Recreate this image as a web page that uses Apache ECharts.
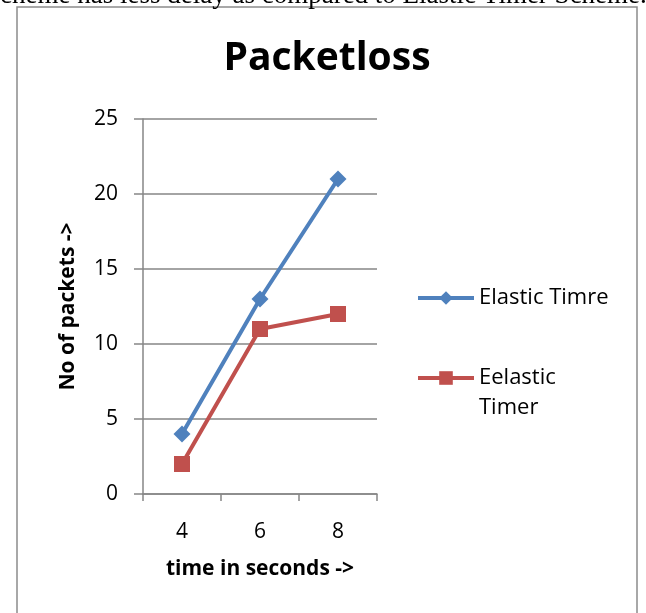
<!DOCTYPE html>
<html>
<head>
<meta charset="utf-8">
<script src="https://cdn.jsdelivr.net/npm/echarts@6/dist/echarts.min.js"></script>
<style>
  html, body { margin: 0; padding: 0; background: #fff; }
  #chart { width: 646px; height: 613px; }
</style>
</head>
<body>
<div id="chart"></div>
<script>
const categories = ['4', '6', '8'];
const seriesNames = ['Elastic Timre', 'Eelastic Timer'];
const elasticTimre = [4, 13, 21];
const eelasticTimer = [2, 11, 12];
const yTicks = [0, 5, 10, 15, 20, 25];
const titleText = 'Packetloss';
const xAxisName = 'time in seconds ->';
const yAxisName = 'No of packets ->';
const captionText = 'Scheme has less delay as compared to Elastic Timer Scheme.';

const chart = echarts.init(document.getElementById('chart'), null, { renderer: 'canvas' });
const font = 'Open Sans, Noto Sans, sans-serif';
const axisGray = '#868686';

chart.setOption({
  animation: false,
  backgroundColor: '#fff',
  graphic: [
    { type: 'rect', shape: { x: 17, y: 7, width: 620, height: 620 }, style: { fill: 'none', stroke: '#8c8c8c', lineWidth: 1.5 }, z: -1 },
    { type: 'text', left: -15, top: -18, style: { text: captionText, font: '27px "Liberation Serif", serif', fill: '#000' } }
  ],
  title: {
    text: titleText, left: 327, top: 39, textAlign: 'center', padding: 0,
    textStyle: { fontFamily: font, fontWeight: 'bold', fontSize: 39, color: '#000' }
  },
  grid: { left: 143, top: 119, width: 234, height: 375, containLabel: false },
  legend: [
    { data: [seriesNames[0]], orient: 'vertical', left: 416, top: 287, padding: 0, itemWidth: 56, itemHeight: 17, itemGap: 6,
      lineStyle: { width: 4 },
      textStyle: { fontFamily: font, fontSize: 22, color: '#000' } },
    { data: [seriesNames[1]], orient: 'vertical', left: 416, top: 333, padding: 0, itemWidth: 56, itemHeight: 17, itemGap: 6,
      lineStyle: { width: 4 },
      formatter: n => '\u00a0\n' + n.replace(' ', '\n'),
      textStyle: { fontFamily: font, fontSize: 22, color: '#000', lineHeight: 30 } }
  ],
  xAxis: {
    type: 'category', data: categories, boundaryGap: true,
    name: xAxisName, nameLocation: 'middle', nameGap: 65,
    nameTextStyle: { fontFamily: font, fontWeight: 'bold', fontSize: 21, color: '#000' },
    axisLine: { lineStyle: { color: axisGray, width: 1.5 } },
    axisTick: { show: true, length: 7, lineStyle: { color: axisGray, width: 1.5 } },
    axisLabel: { fontFamily: font, fontSize: 21, color: '#000', margin: 28 },
    splitLine: { show: false }
  },
  yAxis: {
    type: 'value', min: 0, max: 25, interval: 5,
    name: yAxisName, nameLocation: 'middle', nameGap: 64, nameRotate: 90,
    nameTextStyle: { fontFamily: font, fontWeight: 'bold', fontSize: 21, color: '#000' },
    axisLine: { show: true, lineStyle: { color: axisGray, width: 1.5 } },
    axisTick: { show: true, inside: false, length: 9, lineStyle: { color: axisGray, width: 1.5 } },
    axisLabel: { fontFamily: font, fontSize: 21, color: '#000', margin: 25,
      formatter: v => yTicks.includes(v) ? String(v) : '' },
    splitLine: { show: true, lineStyle: { color: axisGray, width: 1.5 } }
  },
  series: [
    { name: seriesNames[0], type: 'line', data: elasticTimre,
      symbol: 'diamond', symbolSize: 17,
      lineStyle: { color: '#4F81BD', width: 4 },
      itemStyle: { color: '#4F81BD' } },
    { name: seriesNames[1], type: 'line', data: eelasticTimer,
      symbol: 'rect', symbolSize: 16,
      lineStyle: { color: '#C0504D', width: 4 },
      itemStyle: { color: '#C0504D' } }
  ]
});
</script>
</body>
</html>
